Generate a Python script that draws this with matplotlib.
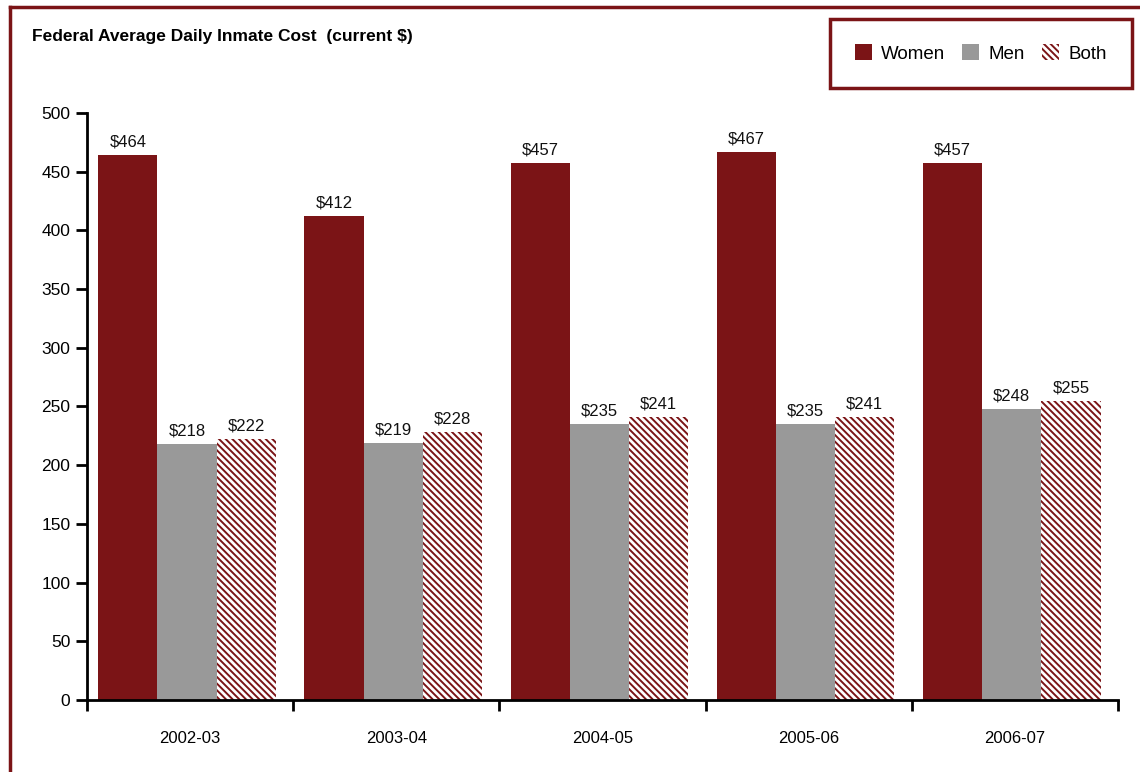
import matplotlib
matplotlib.use('Agg')
import matplotlib.pyplot as plt
import numpy as np
from matplotlib.lines import Line2D

plt.rcParams['font.family'] = ['Liberation Sans Narrow', 'Liberation Sans', 'DejaVu Sans']
plt.rcParams['hatch.linewidth'] = 1.4

years = ['2002-03', '2003-04', '2004-05', '2005-06', '2006-07']
women = [464, 412, 457, 467, 457]
men = [218, 219, 235, 235, 248]
both = [222, 228, 241, 241, 255]

dark_red = '#7b1416'
grey = '#999999'

fig = plt.figure(figsize=(11.4, 7.72), dpi=100)
ax = fig.add_axes([0.0763, 0.0933, 0.9044, 0.7603])

x = np.arange(len(years))
w = 0.287
off = -0.015
b1 = ax.bar(x + off - w, women, w, color=dark_red, label='Women')
b2 = ax.bar(x + off, men, w, color=grey, label='Men')
b3 = ax.bar(x + off + w, both, w, color='white', edgecolor=dark_red,
            hatch='\\\\\\\\\\', linewidth=0, label='Both')

for bars in (b1, b2, b3):
    ax.bar_label(bars, labels=['$%d' % v for v in bars.datavalues],
                 padding=4, fontsize=12, color='#111111')

ax.set_xlim(-0.5, len(years) - 0.5)
ax.set_ylim(0, 500)
ax.set_yticks(range(0, 501, 50))
ax.set_xticks(x)
ax.set_xticklabels(years, fontsize=12)
ax.set_xticks(np.arange(len(years) + 1) - 0.5, minor=True)
ax.tick_params(axis='x', which='major', length=0, pad=22)
ax.tick_params(axis='x', which='minor', length=8, width=2, direction='out')
ax.tick_params(axis='y', length=8, width=2, direction='out', labelsize=12.5, pad=4)
for s in ['top', 'right']:
    ax.spines[s].set_visible(False)
for s in ['left', 'bottom']:
    ax.spines[s].set_linewidth(2)

fig.text(32 / 1140, 1 - 36 / 772, 'Federal Average Daily Inmate Cost  (current $)',
         fontsize=12.5, fontweight='bold', va='center', ha='left')

leg = fig.legend(handles=[b1, b2, b3], loc='upper right', ncol=3,
                 bbox_to_anchor=(1132 / 1140, 1 - 19 / 772), fontsize=13.5,
                 frameon=True, fancybox=False, handlelength=0.9, handleheight=0.9,
                 handletextpad=0.5, columnspacing=0.9, borderpad=1.35,
                 borderaxespad=0, framealpha=1)
leg.get_frame().set_edgecolor(dark_red)
leg.get_frame().set_linewidth(2.5)

# outer frame lines
fig.add_artist(Line2D([10 / 1140, 10 / 1140], [0, 1 - 7 / 772], color=dark_red, lw=2.5,
                      transform=fig.transFigure))
fig.add_artist(Line2D([10 / 1140, 1], [1 - 7 / 772, 1 - 7 / 772], color=dark_red, lw=2.5,
                      transform=fig.transFigure))

fig.savefig('out.png', dpi=100)
